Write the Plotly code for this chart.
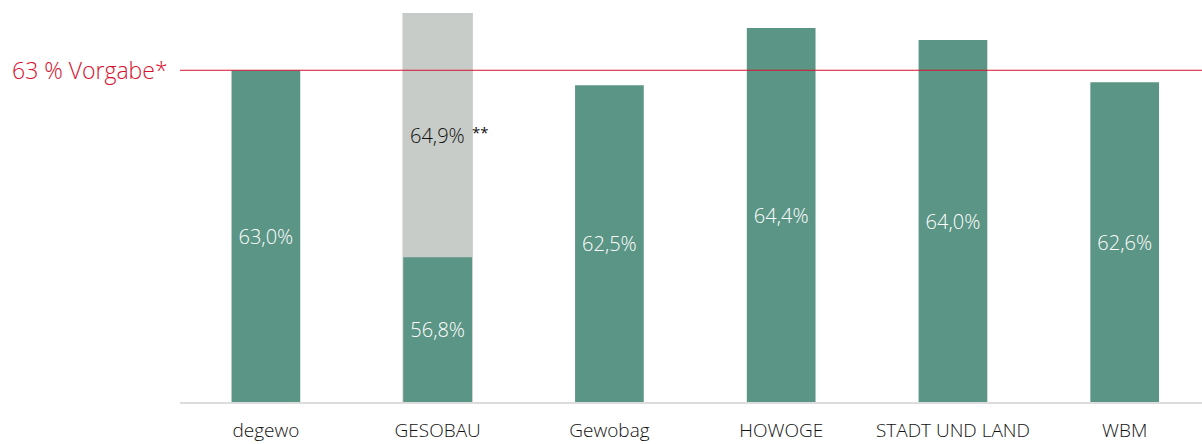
import plotly.graph_objects as go

categories = ["degewo", "GESOBAU", "Gewobag", "HOWOGE", "STADT UND LAND", "WBM"]
values = [63.0, 56.8, 62.5, 64.4, 64.0, 62.6]
labels = ["63,0%", "56,8%", "62,5%", "64,4%", "64,0%", "62,6%"]
gray_category = "GESOBAU"
gray_value = 64.9
gray_label = "64,9%"
target = 63.0
target_label = "63 % Vorgabe*"
axis_floor = 52.0
axis_top = 65.33

GREEN = "#5b9585"
GRAY = "#c8ccc8"
RED = "#d6112e"
FONT = "Open Sans"

fig = go.Figure()
fig.add_trace(go.Bar(
    x=[gray_category], y=[gray_value - axis_floor], base=axis_floor,
    marker=dict(color=GRAY, line=dict(width=0)), width=0.41,
    textposition="none", hoverinfo="skip"))
fig.add_trace(go.Bar(
    x=categories, y=[v - axis_floor for v in values], base=axis_floor,
    marker=dict(color=GREEN, line=dict(width=0)), width=0.40,
    text=labels, textposition="inside", insidetextanchor="middle",
    textfont=dict(color="white", size=20, family=FONT, weight=300), textangle=0,
    hoverinfo="skip"))

# gray segment label
gi = categories.index(gray_category)
mid = (values[gi] + gray_value) / 2
fig.add_annotation(x=gray_category, y=mid, text=gray_label, showarrow=False,
                   font=dict(color="#111111", size=20, family=FONT, weight=300))
fig.add_annotation(x=gray_category, y=mid, text="**", showarrow=False,
                   xanchor="left", xshift=32, yshift=3,
                   font=dict(color="#111111", size=15, family=FONT))

# target line
fig.add_shape(type="line", xref="paper", x0=0, x1=1, yref="y", y0=target, y1=target,
              line=dict(color=RED, width=1.2), layer="above")
fig.add_annotation(xref="paper", x=0, y=target, yref="y", text=target_label,
                   showarrow=False, xanchor="right", xshift=-10,
                   font=dict(color=RED, size=23, family=FONT, weight=300))

fig.update_layout(
    width=1202, height=444,
    margin=dict(l=180, r=0, t=0, b=42),
    paper_bgcolor="white", plot_bgcolor="white",
    showlegend=False, barmode="overlay",
    font=dict(family=FONT),
    xaxis=dict(range=[-0.5, 5.45], showgrid=False, showline=True,
               categoryorder="array", categoryarray=categories,
               linecolor="#dcdcdc", linewidth=2, ticks="", automargin=False,
               tickfont=dict(size=19, color="#111111", family=FONT, weight=300),
               ticklabelstandoff=10),
    yaxis=dict(range=[axis_floor, axis_top], visible=False, showgrid=False,
               automargin=False),
)

fig.write_html("out.html", config={"displayModeBar": False},
               post_script="document.body.style.margin='0';document.body.style.padding='0';")
